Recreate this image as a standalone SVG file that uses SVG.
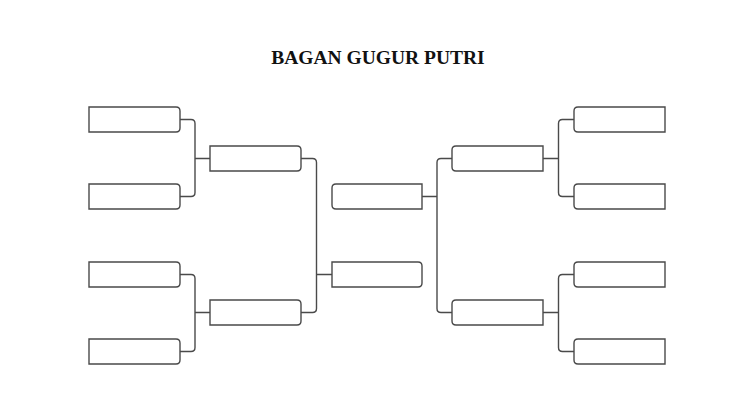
<svg xmlns="http://www.w3.org/2000/svg" width="738" height="415" viewBox="0 0 738 415">
<style>
.box{fill:#fff;stroke:#4a4a4a;stroke-width:1.4}
.con{fill:none;stroke:#4a4a4a;stroke-width:1.4}
.title{font-family:"Liberation Serif","DejaVu Serif",serif;font-weight:bold;font-size:19.5px;fill:#111}
</style>
<rect width="738" height="415" fill="#fff"/>
<text class="title" x="378" y="63.5" text-anchor="middle">BAGAN GUGUR PUTRI</text>
<g id="connectors">
<path class="con" d="M180 119.5 H191 Q195 119.5 195 123.5 V192.5 Q195 196.5 191 196.5 H180 M195 158.5 H210"/>
<path class="con" d="M180 274.5 H191 Q195 274.5 195 278.5 V347.5 Q195 351.5 191 351.5 H180 M195 312.5 H210"/>
<path class="con" d="M301 158.5 H312.5 Q316.5 158.5 316.5 162.5 V308.5 Q316.5 312.5 312.5 312.5 H301 M316.5 274.5 H332"/>
<path class="con" d="M452 158.5 H441 Q437 158.5 437 162.5 V308.5 Q437 312.5 441 312.5 H452 M437 196.5 H422"/>
<path class="con" d="M574 119.5 H562.5 Q558.5 119.5 558.5 123.5 V192.5 Q558.5 196.5 562.5 196.5 H574 M558.5 158.5 H543"/>
<path class="con" d="M574 274.5 H562.5 Q558.5 274.5 558.5 278.5 V347.5 Q558.5 351.5 562.5 351.5 H574 M558.5 312.5 H543"/>
</g>
<g id="L1"><path class="box" d="M89 107 H176 Q180 107 180 111 V128 Q180 132 176 132 H89 Z"/></g>
<g id="L2"><path class="box" d="M89 184 H176 Q180 184 180 188 V205 Q180 209 176 209 H89 Z"/></g>
<g id="L3"><path class="box" d="M89 262 H176 Q180 262 180 266 V283 Q180 287 176 287 H89 Z"/></g>
<g id="L4"><path class="box" d="M89 339 H176 Q180 339 180 343 V360 Q180 364 176 364 H89 Z"/></g>
<g id="LQ1"><path class="box" d="M210 146 H297 Q301 146 301 150 V167 Q301 171 297 171 H210 Z"/></g>
<g id="LQ2"><path class="box" d="M210 300 H297 Q301 300 301 304 V321 Q301 325 297 325 H210 Z"/></g>
<g id="C1"><path class="box" d="M422 184 H336 Q332 184 332 188 V205 Q332 209 336 209 H422 Z"/></g>
<g id="C2"><path class="box" d="M332 262 H418 Q422 262 422 266 V283 Q422 287 418 287 H332 Z"/></g>
<g id="RQ1"><path class="box" d="M543 146 H456 Q452 146 452 150 V167 Q452 171 456 171 H543 Z"/></g>
<g id="RQ2"><path class="box" d="M543 300 H456 Q452 300 452 304 V321 Q452 325 456 325 H543 Z"/></g>
<g id="R1"><path class="box" d="M665 107 H578 Q574 107 574 111 V128 Q574 132 578 132 H665 Z"/></g>
<g id="R2"><path class="box" d="M665 184 H578 Q574 184 574 188 V205 Q574 209 578 209 H665 Z"/></g>
<g id="R3"><path class="box" d="M665 262 H578 Q574 262 574 266 V283 Q574 287 578 287 H665 Z"/></g>
<g id="R4"><path class="box" d="M665 339 H578 Q574 339 574 343 V360 Q574 364 578 364 H665 Z"/></g>
</svg>
